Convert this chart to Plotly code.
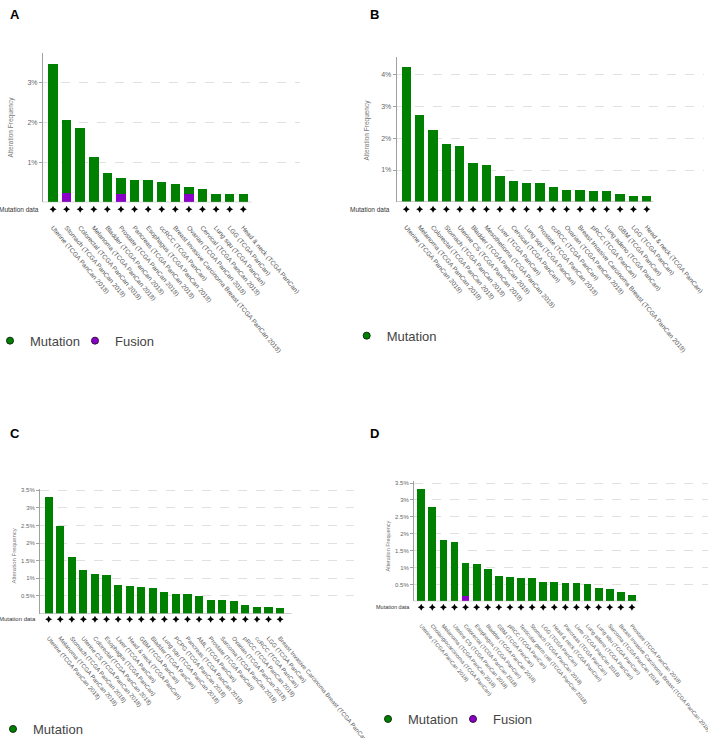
import plotly.graph_objects as go

W, H = 708, 738
FONT = "Liberation Sans, Arial, sans-serif"
GREEN = "#008000"
PURPLE = "#8B00C9"

# ---------------- Data ----------------
a_cats = ["Uterine (TCGA PanCan 2018)", "Stomach (TCGA PanCan 2018)", "Colorectal (TCGA PanCan 2018)",
          "Melanoma (TCGA PanCan 2018)", "Bladder (TCGA PanCan 2018)", "Prostate (TCGA PanCan 2018)",
          "Pancreas (TCGA PanCan 2018)", "Esophagus (TCGA PanCan 2018)", "ccRCC (TCGA PanCan)",
          "Breast Invasive Carcinoma Breast (TCGA PanCan 2018)", "Ovarian (TCGA PanCan 2018)",
          "Cervical (TCGA PanCan 2018)", "Lung squ (TCGA PanCan)", "LGG (TCGA PanCan)",
          "Head & neck (TCGA PanCan)"]
a_mutation = [3.47, 1.82, 1.87, 1.14, 0.74, 0.40, 0.56, 0.55, 0.50, 0.47, 0.18, 0.34, 0.22, 0.21, 0.21]
a_fusion = [0, 0.24, 0, 0, 0, 0.21, 0, 0, 0, 0, 0.21, 0, 0, 0, 0]
a_tickvals = [1, 2, 3]
a_ticktext = ["1%", "2%", "3%"]

b_cats = ["Uterine (TCGA PanCan 2018)", "Melanoma (TCGA PanCan 2018)", "Colorectal (TCGA PanCan 2018)",
          "Stomach (TCGA PanCan 2018)", "Uterine CS (TCGA PanCan 2018)", "Bladder (TCGA PanCan 2018)",
          "Mesothelioma (TCGA PanCan 2018)", "Liver (TCGA PanCan)", "Cervical (TCGA PanCan)",
          "Lung squ (TCGA PanCan)", "Prostate (TCGA PanCan 2018)", "ccRCC (TCGA PanCan)",
          "Ovarian (TCGA PanCan 2018)", "Breast Invasive Carcinoma Breast (TCGA PanCan 2018)",
          "pRCC (TCGA PanCan)", "Lung adeno (TCGA PanCan)", "GBM (TCGA PanCan)", "LGG (TCGA PanCan)",
          "Head & neck (TCGA PanCan)"]
b_mutation = [4.25, 2.72, 2.25, 1.83, 1.75, 1.21, 1.16, 0.81, 0.67, 0.60, 0.58, 0.48, 0.36, 0.36,
              0.35, 0.33, 0.24, 0.18, 0.18]
b_tickvals = [1, 2, 3, 4]
b_ticktext = ["1%", "2%", "3%", "4%"]

c_cats = ["Uterine (TCGA PanCan 2018)", "Melanoma (TCGA PanCan 2018)", "Stomach (TCGA PanCan 2018)",
          "Uterine CS (TCGA PanCan 2018)", "Colorectal (TCGA PanCan 2018)", "Esophagus (TCGA PanCan)",
          "Liver (TCGA PanCan)", "Head & neck (TCGA PanCan)", "GBM (TCGA PanCan)", "Bladder (TCGA PanCan)",
          "Lung squ (TCGA PanCan 2018)", "PCPG (TCGA PanCan 2018)", "Pancreas (TCGA PanCan 2018)",
          "AML (TCGA PanCan)", "Prostate (TCGA PanCan)", "Sarcoma (TCGA PanCan 2018)",
          "Ovarian (TCGA PanCan 2018)", "pRCC (TCGA PanCan 2018)", "ccRCC (TCGA PanCan)",
          "LGG (TCGA PanCan)", "Breast Invasive Carcinoma Breast (TCGA PanCan 2018)"]
c_mutation = [3.30, 2.50, 1.60, 1.24, 1.12, 1.09, 0.81, 0.77, 0.74, 0.72, 0.61, 0.55, 0.55, 0.49,
              0.38, 0.38, 0.35, 0.23, 0.18, 0.18, 0.17]
c_tickvals = [0.5, 1, 1.5, 2, 2.5, 3, 3.5]
c_ticktext = ["0.5%", "1%", "1.5%", "2%", "2.5%", "3%", "3.5%"]

d_cats = ["Uterine (TCGA PanCan 2018)", "Cholangiocarcinoma (TCGA PanCan)", "Melanoma (TCGA PanCan 2018)",
          "Uterine CS (TCGA PanCan 2018)", "Colorectal (TCGA PanCan 2018)", "Esophagus (TCGA PanCan)",
          "Bladder (TCGA PanCan 2018)", "GBM (TCGA PanCan)", "pRCC (TCGA PanCan)",
          "Testicular germ cell (TCGA PanCan 2018)", "Stomach (TCGA PanCan 2018)", "LGG (TCGA PanCan)",
          "Head & neck (TCGA PanCan)", "Pancreas (TCGA PanCan)", "Liver (TCGA PanCan 2018)",
          "Lung adeno (TCGA PanCan)", "Lung squ (TCGA PanCan)", "Sarcoma (TCGA PanCan 2018)",
          "Breast Invasive Carcinoma Breast (TCGA PanCan 2018)", "Prostate (TCGA PanCan 2018)"]
d_mutation = [3.31, 2.80, 1.82, 1.75, 0.96, 1.09, 0.96, 0.75, 0.71, 0.68, 0.68, 0.58, 0.58, 0.55,
              0.55, 0.52, 0.40, 0.37, 0.28, 0.20]
d_fusion = [0, 0, 0, 0, 0.16, 0, 0, 0, 0, 0, 0, 0, 0, 0, 0, 0, 0, 0, 0, 0]
d_tickvals = [0.5, 1, 1.5, 2, 2.5, 3, 3.5]
d_ticktext = ["0.5%", "1%", "1.5%", "2%", "2.5%", "3%", "3.5%"]

# ---------------- Layout geometry (pixels) ----------------
panels = [
    dict(letter="A", cats=a_cats, mut=a_mutation, fus=a_fusion, tv=a_tickvals, tt=a_ticktext,
         x0=43, x1=300, ytop=53.3, ybot=202.3, ppu=40.0, xmin=-0.736, step=13.59, rowpx=7.0,
         tickfs=7, labfs=6.5, letter_xy=(15, 14.5), md_x=41, yt_xy=(11, 127.5),
         leg_xy=(10, 340.7), lineext=0.6),
    dict(letter="B", cats=b_cats, mut=b_mutation, fus=None, tv=b_tickvals, tt=b_ticktext,
         x0=396.7, x1=704, ytop=56.7, ybot=201.8, ppu=31.78, xmin=-0.72, step=13.36, rowpx=7.5,
         tickfs=7, labfs=6.5, letter_xy=(374, 14.5), md_x=392, yt_xy=(366, 129.5),
         leg_xy=(366.7, 335.7), lineext=0.5),
    dict(letter="C", cats=c_cats, mut=c_mutation, fus=None, tv=c_tickvals, tt=c_ticktext,
         x0=40, x1=354, ytop=488.7, ybot=613.5, ppu=35.2, xmin=-0.75, step=11.57, rowpx=5.8,
         tickfs=6, labfs=6, letter_xy=(15, 433), md_x=38, yt_xy=(13, 556.5),
         leg_xy=(13, 729), lineext=1.0),
    dict(letter="D", cats=d_cats, mut=d_mutation, fus=d_fusion, tv=d_tickvals, tt=d_ticktext,
         x0=414, x1=708, ytop=481.3, ybot=601.3, ppu=33.8, xmin=-0.65, step=11.09, rowpx=6.0,
         tickfs=6, labfs=5.5, letter_xy=(374, 433), md_x=412, yt_xy=(387, 546.5),
         leg_xy=(388, 719), lineext=0.6),
]


def fx(p):
    return p / W


def fy(p):
    return 1 - p / H


fig = go.Figure()
layout = dict(width=W, height=H, margin=dict(l=0, r=0, t=0, b=0, autoexpand=False),
              paper_bgcolor="white", plot_bgcolor="white", barmode="stack",
              font=dict(family=FONT, color="#444"), showlegend=True,
              annotations=[], shapes=[])

for i, p in enumerate(panels, start=1):
    xa = "x" if i == 1 else f"x{i}"
    ya = "y" if i == 1 else f"y{i}"
    yr = f"y{i + 4}"
    xkey = "xaxis" if i == 1 else f"xaxis{i}"
    ykey = "yaxis" if i == 1 else f"yaxis{i}"
    rkey = f"yaxis{i + 4}"
    lkey = "legend" if i == 1 else f"legend{i}"
    n = len(p["cats"])
    ymax = (p["ybot"] - p["ytop"]) / p["ppu"]
    xmax = p["xmin"] + (p["x1"] - p["x0"]) / p["step"]

    if p["fus"] is not None:
        fig.add_trace(go.Bar(x=p["cats"], y=p["fus"], marker=dict(color=PURPLE, line=dict(width=0)),
                             width=0.7, xaxis=xa, yaxis=ya, showlegend=False, name="Fusion"))
    fig.add_trace(go.Bar(x=p["cats"], y=p["mut"], marker=dict(color=GREEN, line=dict(width=0)),
                         width=0.7, xaxis=xa, yaxis=ya, showlegend=False, name="Mutation"))
    # "Mutation data" track markers, on a thin track axis under the bars
    fig.add_trace(go.Scatter(x=p["cats"], y=[0] * n, mode="markers",
                             marker=dict(symbol="star-diamond", size=5, color="black"),
                             cliponaxis=False, xaxis=xa, yaxis=yr, showlegend=False,
                             hoverinfo="skip"))
    # legend entries
    fig.add_trace(go.Scatter(x=[None], y=[None], mode="markers", name="Mutation",
                             marker=dict(color=GREEN, size=7, line=dict(color="#103010", width=1)),
                             xaxis=xa, yaxis=ya, legend=lkey, showlegend=True))
    if p["fus"] is not None:
        fig.add_trace(go.Scatter(x=[None], y=[None], mode="markers", name="Fusion",
                                 marker=dict(color=PURPLE, size=7, line=dict(color="#301040", width=1)),
                                 xaxis=xa, yaxis=ya, legend=lkey, showlegend=True))

    layout[xkey] = dict(domain=[fx(p["x0"]), fx(p["x1"])], range=[p["xmin"], xmax], anchor=ya,
                        type="category", tickangle=50, ticks="outside", ticklen=18,
                        tickcolor="rgba(0,0,0,0)", showline=False, showgrid=False, zeroline=False,
                        tickfont=dict(size=p["labfs"], color="#555", family=FONT), fixedrange=True)
    layout[ykey] = dict(domain=[fy(p["ybot"]), fy(p["ytop"])], range=[0, ymax], anchor=xa,
                        tickvals=p["tv"], ticktext=p["tt"], showline=True, linecolor="#a0a0a0",
                        linewidth=1, ticks="outside", ticklen=3, tickcolor="#a0a0a0",
                        tickfont=dict(size=p["tickfs"], color="#666", family=FONT),
                        showgrid=True, gridcolor="#e0e0e0", griddash="dash", gridwidth=1,
                        zeroline=False, fixedrange=True)
    row = p["ybot"] + p["rowpx"]
    layout[rkey] = dict(domain=[fy(row + 3), fy(row - 3)], range=[-1, 1], anchor=xa,
                        visible=False, fixedrange=True)
    leg = dict(x=fx(p["leg_xy"][0] - 20), y=fy(p["leg_xy"][1]), xanchor="left",
               yanchor="middle", orientation="h", bgcolor="rgba(0,0,0,0)",
               traceorder="normal",
               font=dict(size=13, color="#444", family=FONT), itemclick=False,
               itemdoubleclick=False)
    if p["fus"] is not None:
        leg.update(entrywidth=40, entrywidthmode="pixels")
    layout[lkey] = leg

    # x axis baseline
    layout["shapes"].append(dict(type="line", xref=xa, yref=ya, x0=p["xmin"], x1=n - 1 + p["lineext"],
                                 y0=0, y1=0, line=dict(color="#a0a0a0", width=1)))
    # panel letter
    layout["annotations"].append(dict(text="<b>" + p["letter"] + "</b>", x=fx(p["letter_xy"][0]),
                                      y=fy(p["letter_xy"][1]), xref="paper", yref="paper",
                                      showarrow=False, xanchor="center", yanchor="middle",
                                      font=dict(size=13, color="black", family=FONT)))
    # Mutation data label
    layout["annotations"].append(dict(text="Mutation data", x=fx(p["md_x"]),
                                      y=fy(row), xref="paper", yref="paper",
                                      showarrow=False, xanchor="right", yanchor="middle",
                                      font=dict(size=p["labfs"], color="#333", family=FONT)))
    # Y title
    layout["annotations"].append(dict(text="Alteration Frequency", x=fx(p["yt_xy"][0]),
                                      y=fy(p["yt_xy"][1]), xref="paper", yref="paper",
                                      showarrow=False, textangle=-90, xanchor="center",
                                      yanchor="middle",
                                      font=dict(size=p["labfs"], color="#777", family=FONT)))

fig.update_layout(**layout)
fig.write_html("out.html", config={"displayModeBar": False},
               post_script="document.body.style.margin='0px';")
